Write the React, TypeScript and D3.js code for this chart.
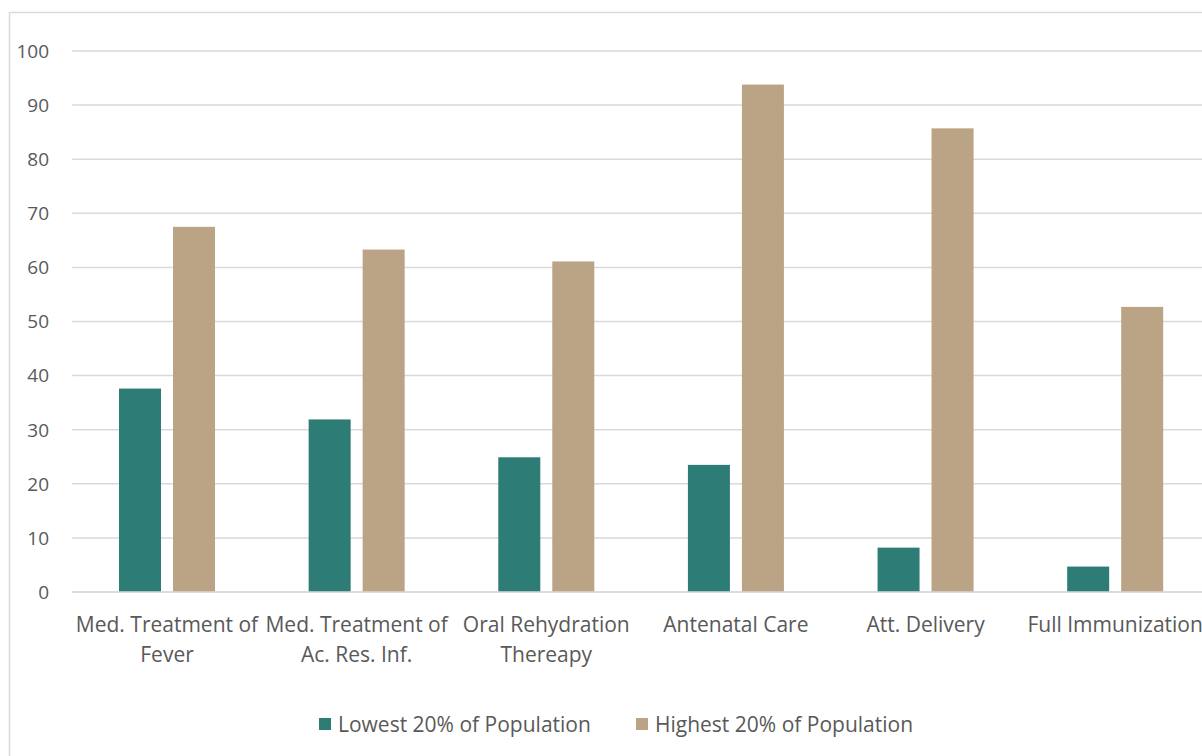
import React from "react";
import * as d3 from "d3";

const categories = [
  ["Med. Treatment of", "Fever"],
  ["Med. Treatment of", "Ac. Res. Inf."],
  ["Oral Rehydration", "Thereapy"],
  ["Antenatal Care"],
  ["Att. Delivery"],
  ["Full Immunization"],
];
const lowest = [37.6, 31.9, 24.9, 23.5, 8.2, 4.7];
const highest = [67.5, 63.3, 61.1, 93.8, 85.7, 52.7];
const seriesNames = ["Lowest 20% of Population", "Highest 20% of Population"];
const yTicks = [0, 10, 20, 30, 40, 50, 60, 70, 80, 90, 100];

const W = 1202;
const H = 756;
const colors = ["#2D7C75", "#BBA486"];
const font = "'Open Sans', sans-serif";
const textColor = "#595959";

export default function App() {
  const left = 72.2;
  const right = 1210;
  const y = d3.scaleLinear().domain([0, 100]).range([592, 51]);
  const x = d3
    .scaleBand<number>()
    .domain(d3.range(categories.length))
    .range([left, right]);
  const step = x.step();
  const barW = 42;
  const gap = 12;
  return (
    <svg
      width={W}
      height={H}
      style={{ position: "absolute", left: 0, top: 0, background: "#fff" }}
    >
      <rect x={9.5} y={12.5} width={W + 20} height={H + 20} fill="none" stroke="#D9D9D9" strokeWidth={1.5} />
      {yTicks.map((t) => (
        <g key={t}>
          <line x1={left} x2={W} y1={y(t)} y2={y(t)} stroke="#D9D9D9" strokeWidth={1.5} />
          <text x={49} y={y(t)} dy="0.36em" textAnchor="end" fontFamily={font} fontSize={19} fill={textColor}>
            {t}
          </text>
        </g>
      ))}
      {categories.map((c, i) => {
        const cx = (x(i) as number) + step / 2;
        return (
          <g key={i}>
            <rect x={cx - gap / 2 - barW} y={y(lowest[i])} width={barW} height={y(0) - y(lowest[i])} fill={colors[0]} />
            <rect x={cx + gap / 2} y={y(highest[i])} width={barW} height={y(0) - y(highest[i])} fill={colors[1]} />
            {c.map((line, j) => (
              <text key={j} x={cx} y={624 + j * 30} dy="0.36em" textAnchor="middle" fontFamily={font} fontSize={21} fill={textColor}>
                {line}
              </text>
            ))}
          </g>
        );
      })}
      <line x1={left} x2={W} y1={y(0)} y2={y(0)} stroke="#D9D9D9" strokeWidth={1.5} />
      {seriesNames.map((s, i) => {
        const lx = [319, 636][i];
        return (
          <g key={s}>
            <rect x={lx} y={718} width={12} height={12} fill={colors[i]} />
            <text x={lx + 19} y={724} dy="0.36em" fontFamily={font} fontSize={21} fill={textColor}>
              {s}
            </text>
          </g>
        );
      })}
    </svg>
  );
}
